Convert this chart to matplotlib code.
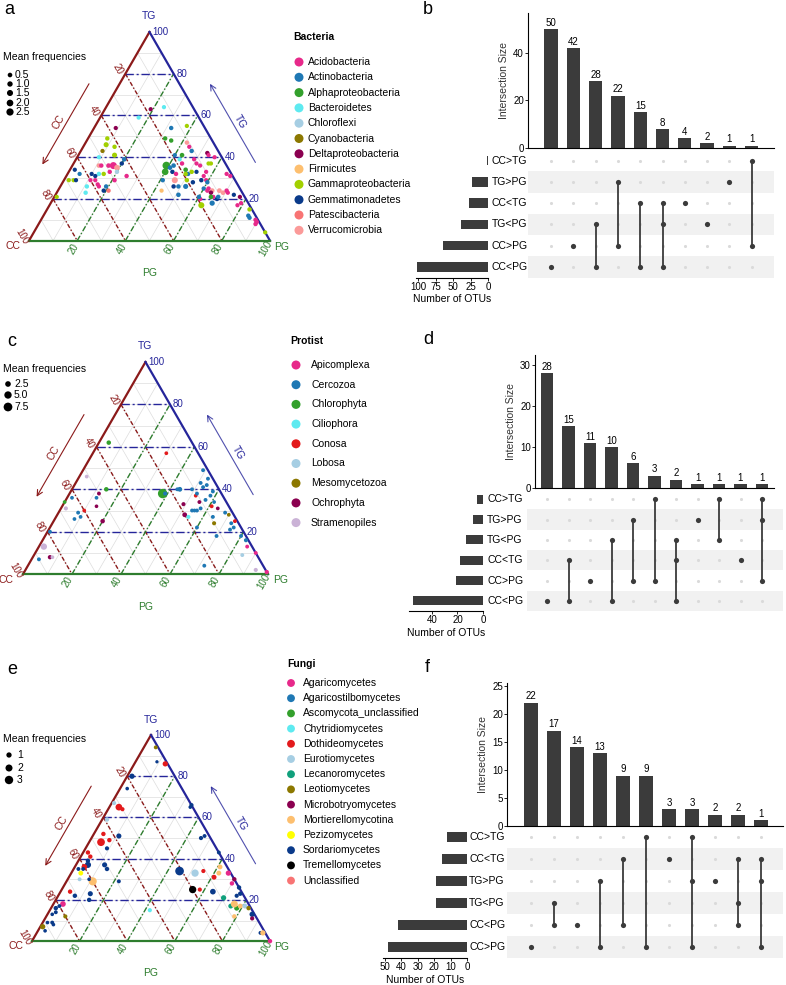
import numpy as np
import matplotlib.pyplot as plt
from matplotlib.transforms import blended_transform_factory

plt.rcParams['font.family'] = ['Liberation Sans', 'DejaVu Sans']

# ---------------- data: ternary plots (TG %, PG %, CC = rest) ----------------
bac_taxa = ["Acidobacteria", "Actinobacteria", "Alphaproteobacteria", "Bacteroidetes",
            "Chloroflexi", "Cyanobacteria", "Deltaproteobacteria", "Firmicutes",
            "Gammaproteobacteria", "Gemmatimonadetes", "Patescibacteria", "Verrucomicrobia"]
bac_codes = ["Aci", "Act", "Alp", "Bac", "Chl", "Cya", "Del", "Fir", "Gam", "Gem", "Pat", "Ver"]
bac_colors = ["#E7298A", "#1F78B4", "#33A02C", "#5EEAF0", "#A6CEE3", "#8C7800",
              "#8B0050", "#FDBF6F", "#A2D000", "#0A3A8A", "#F87474", "#FB9A99"]
bac_tg = [63, 64, 59, 54, 55, 49, 48, 54, 49, 46,
          45, 41, 43, 39, 37, 40, 36, 35, 36, 36,
          36, 33, 33, 32, 32, 31, 32, 32, 34, 29,
          29, 29, 29, 29, 29, 31, 27, 26, 26, 26,
          24, 24, 23, 21, 41, 39, 36, 33, 36, 35,
          33, 32, 29, 29, 24, 34, 37, 47, 45, 43,
          41, 39, 37, 32, 33, 32, 33, 26, 29, 28,
          26, 26, 22, 36, 29, 31, 42, 41, 40, 37,
          37, 33, 29, 28, 25, 24, 25, 24, 24, 23,
          24, 23, 21, 21, 20, 18, 21, 20, 21, 17,
          32, 31, 23, 22, 21, 18, 17, 15, 12, 11,
          10, 9, 8, 4]
bac_pg = [19, 24, 16, 32, 38, 32, 35, 9, 8, 9,
          13, 15, 9, 20, 20, 9, 17, 19, 15, 11,
          12, 20, 17, 15, 13, 12, 10, 5, 2, 4,
          5, 2, 11, 13, 21, 25, 15, 16, 19, 11,
          19, 21, 12, 1, 40, 43, 39, 40, 42, 41,
          43, 45, 46, 41, 43, 48, 45, 42, 44, 46,
          43, 49, 51, 50, 51, 49, 53, 52, 51, 54,
          47, 49, 51, 53, 57, 57, 53, 54, 57, 57,
          56, 57, 59, 60, 60, 62, 62, 64, 67, 69,
          70, 64, 66, 65, 68, 67, 68, 61, 60, 63,
          66, 68, 71, 74, 77, 79, 78, 84, 85, 86,
          89, 90, 90, 96]
bac_freq = [0.3, 0.3, 0.3, 0.4, 0.3, 0.4, 0.4, 0.3, 0.4, 0.8,
            0.4, 0.8, 0.3, 0.5, 0.4, 0.3, 2.3, 1.2, 0.5, 0.5,
            0.4, 0.4, 0.4, 0.4, 0.4, 0.3, 0.3, 0.3, 0.3, 0.3,
            0.3, 0.3, 0.3, 0.3, 0.4, 0.4, 0.3, 0.3, 0.4, 0.4,
            0.4, 0.4, 0.4, 0.3, 0.3, 0.3, 3.0, 2.0, 0.5, 0.5,
            0.4, 0.4, 1.5, 0.4, 0.3, 0.5, 0.4, 0.4, 0.3, 0.4,
            0.5, 0.3, 0.3, 0.4, 0.4, 0.4, 0.3, 0.8, 0.4, 0.4,
            0.4, 0.4, 0.5, 0.3, 0.4, 0.3, 0.4, 0.3, 0.3, 0.3,
            0.3, 0.3, 0.3, 0.4, 0.4, 0.4, 0.4, 0.6, 0.6, 0.5,
            0.4, 0.4, 0.3, 0.5, 0.4, 0.9, 0.4, 0.4, 0.4, 1.5,
            0.3, 0.3, 0.3, 0.3, 0.3, 0.3, 0.3, 0.4, 0.4, 0.4,
            0.4, 0.4, 0.4, 0.3]
bac_taxon = ["Del", "Bac", "Bac", "Act", "Gam", "Alp", "Alp", "Del", "Gam", "Gam",
             "Gam", "Gam", "Cya", "Act", "Gem", "Bac", "Aci", "Ver", "Aci", "Ver",
             "Aci", "Chl", "Aci", "Gam", "Bac", "Gem", "Gem", "Act", "Gem", "Gam",
             "Gem", "Gam", "Aci", "Aci", "Aci", "Aci", "Aci", "Aci", "Act", "Bac",
             "Gem", "Pat", "Bac", "Gam", "Act", "Bac", "Alp", "Alp", "Act", "Act",
             "Gem", "Aci", "Ver", "Act", "Fir", "Alp", "Aci", "Ver", "Aci", "Act",
             "Alp", "Aci", "Aci", "Act", "Gam", "Gam", "Gem", "Act", "Gam", "Gem",
             "Gem", "Act", "Act", "Aci", "Gem", "Aci", "Del", "Aci", "Aci", "Gam",
             "Gam", "Aci", "Aci", "Act", "Act", "Aci", "Aci", "Ver", "Ver", "Ver",
             "Aci", "Del", "Aci", "Alp", "Gem", "Act", "Act", "Aci", "Act", "Gam",
             "Aci", "Aci", "Aci", "Gem", "Del", "Aci", "Aci", "Gam", "Act", "Act",
             "Aci", "Aci", "Aci", "Gam"]
bac_freq_legend = [0.5, 1.0, 1.5, 2.0, 2.5]

pro_taxa = ["Apicomplexa", "Cercozoa", "Chlorophyta", "Ciliophora", "Conosa",
            "Lobosa", "Mesomycetozoa", "Ochrophyta", "Stramenopiles"]
pro_codes = ["Api", "Cer", "Chl", "Cil", "Con", "Lob", "Mes", "Och", "Str"]
pro_colors = ["#E7298A", "#1F78B4", "#33A02C", "#5EEAF0", "#E31A1C",
              "#A6CEE3", "#8C7800", "#8B0050", "#CAB2D6"]
pro_tg = [62, 57, 46, 40, 38, 36, 36, 34, 31, 32,
          30, 29, 27, 26, 25, 38, 38, 40, 40, 40,
          37, 33, 28, 27, 30, 30, 30, 31, 49, 45,
          43, 41, 38, 35, 34, 39, 37, 34, 32, 31,
          27, 24, 22, 18, 29, 28, 25, 24, 21, 18,
          16, 13, 9, 2, 1, 4, 13, 8, 8, 7,
          20, 42, 22, 10]
pro_pg = [4, 30, 3, 14, 12, 12, 2, 0, 2, 14,
          10, 8, 10, 8, 20, 38, 39, 44, 43, 49,
          52, 49, 52, 54, 54, 55, 56, 57, 49, 53,
          51, 53, 52, 57, 55, 58, 58, 61, 61, 64,
          64, 66, 60, 70, 68, 70, 74, 73, 74, 80,
          83, 85, 85, 94, 99, 72, 2, 7, 8, 3,
          1, 54, 75, 90]
pro_freq = [1.2, 0.5, 0.5, 1.2, 0.6, 0.5, 0.5, 0.5, 0.8, 0.4,
            0.5, 0.6, 0.5, 0.5, 1.2, 9.0, 0.8, 1.5, 0.6, 0.6,
            0.5, 0.8, 1.5, 0.8, 0.6, 0.6, 0.6, 0.6, 0.6, 0.6,
            0.6, 0.6, 0.6, 0.6, 0.6, 0.6, 0.6, 0.5, 0.6, 0.5,
            0.6, 0.8, 0.6, 0.6, 0.6, 0.5, 0.6, 0.6, 0.6, 0.6,
            0.8, 0.6, 0.6, 0.8, 1.0, 0.6, 3.5, 1.0, 0.5, 0.6,
            0.6, 0.6, 0.6, 0.6]
pro_taxon = ["Chl", "Con", "Str", "Chl", "Och", "Cer", "Cer", "Chl", "Str", "Och",
             "Con", "Cer", "Cer", "Cer", "Och", "Chl", "Cer", "Cer", "Cer", "Cer",
             "Con", "Och", "Och", "Cil", "Cer", "Cer", "Cer", "Cer", "Cer", "Cer",
             "Cer", "Cer", "Cer", "Cer", "Och", "Cer", "Cer", "Cer", "Con", "Och",
             "Cer", "Mes", "Cer", "Cer", "Cer", "Mes", "Con", "Cer", "Cer", "Cer",
             "Cer", "Api", "Lob", "Str", "Api", "Cer", "Str", "Och", "Str", "Cer",
             "Cer", "Cer", "Cer", "Api"]
pro_freq_legend = [2.5, 5.0, 7.5]

fun_taxa = ["Agaricomycetes", "Agaricostilbomycetes", "Ascomycota_unclassified",
            "Chytridiomycetes", "Dothideomycetes", "Eurotiomycetes", "Lecanoromycetes",
            "Leotiomycetes", "Microbotryomycetes", "Mortierellomycotina", "Pezizomycetes",
            "Sordariomycetes", "Tremellomycetes", "Unclassified"]
fun_codes = ["Agr", "Ags", "Asc", "Chy", "Dot", "Eur", "Lec", "Leo", "Mic", "Mor",
             "Pez", "Sor", "Tre", "Unc"]
fun_colors = ["#E7298A", "#1F78B4", "#33A02C", "#5EEAF0", "#E31A1C", "#A6CEE3", "#10A07C",
              "#8C7800", "#8B0050", "#FDBF6F", "#FFFF00", "#0A3A8A", "#000000", "#F87474"]
fun_tg = [94, 87, 86, 80, 74, 67, 65, 64, 66, 65,
          59, 52, 48, 49, 45, 51, 43, 41, 39, 37,
          36, 37, 35, 35, 35, 33, 30, 29, 30, 29,
          24, 22, 23, 20, 18, 17, 16, 14, 12, 13,
          9, 8, 9, 7, 5, 15, 34, 33, 34, 25,
          25, 24, 31, 36, 33, 50, 51, 43, 21, 17,
          16, 18, 17, 17, 16, 33, 30, 26, 23, 28,
          22, 13, 11, 12, 4, 4, 0]
fun_pg = [5, 9, 13, 2, 3, 1, 4, 6, 34, 34,
          2, 4, 5, 8, 9, 11, 2, 4, 4, 5,
          4, 12, 14, 2, 4, 4, 5, 11, 9, 22,
          4, 7, 13, 14, 4, 3, 2, 3, 8, 2,
          4, 5, 2, 1, 3, 42, 45, 52, 55, 55,
          58, 64, 61, 61, 62, 46, 47, 57, 70, 75,
          78, 76, 79, 81, 83, 66, 70, 74, 76, 70,
          75, 86, 87, 79, 94, 95, 100]
fun_freq = [0.4, 0.2, 1.0, 1.0, 0.3, 0.5, 1.8, 0.5, 0.5, 0.3,
            0.6, 0.6, 2.5, 0.6, 0.5, 0.9, 0.6, 0.6, 0.6, 1.5,
            1.2, 0.9, 0.6, 0.4, 0.4, 0.8, 0.4, 2.8, 0.3, 0.4,
            0.6, 0.6, 0.9, 0.6, 1.2, 0.4, 0.6, 0.4, 0.5, 0.3,
            0.4, 0.3, 0.3, 1.0, 0.3, 0.5, 3.2, 2.2, 0.5, 2.2,
            0.5, 1.2, 0.8, 0.8, 0.8, 0.5, 0.4, 0.4, 1.0, 0.8,
            0.9, 2.0, 0.8, 0.8, 0.6, 1.0, 0.6, 0.6, 0.6, 0.6,
            0.5, 1.0, 0.5, 0.6, 0.4, 1.0, 0.6]
fun_taxon = ["Leo", "Sor", "Dot", "Sor", "Sor", "Eur", "Dot", "Dot", "Sor", "Sor",
             "Eur", "Dot", "Dot", "Dot", "Sor", "Sor", "Dot", "Dot", "Sor", "Sor",
             "Dot", "Sor", "Sor", "Sor", "Sor", "Pez", "Eur", "Mor", "Sor", "Sor",
             "Dot", "Sor", "Sor", "Sor", "Agr", "Sor", "Sor", "Sor", "Leo", "Sor",
             "Sor", "Sor", "Sor", "Leo", "Sor", "Chy", "Sor", "Eur", "Dot", "Tre",
             "Dot", "Sor", "Dot", "Mor", "Mor", "Sor", "Sor", "Sor", "Lec", "Lec",
             "Asc", "Mor", "Mor", "Eur", "Leo", "Agr", "Mic", "Sor", "Sor", "Agr",
             "Sor", "Sor", "Mic", "Mor", "Sor", "Mor", "Agr"]
fun_freq_legend = [1, 2, 3]

# ---------------- data: upset plots ----------------
b_sets = ["CC>TG", "TG>PG", "CC<TG", "TG<PG", "CC>PG", "CC<PG"]
b_inter = [50, 42, 28, 22, 15, 8, 4, 2, 1, 1]
b_members = [["CC<PG"], ["CC>PG"], ["TG<PG", "CC<PG"], ["TG>PG", "CC>PG"],
             ["CC<TG", "CC<PG"], ["CC<TG", "TG<PG", "CC<PG"], ["CC<TG"], ["TG<PG"],
             ["TG>PG"], ["CC>TG", "CC>PG"]]

d_sets = ["CC>TG", "TG>PG", "TG<PG", "CC<TG", "CC>PG", "CC<PG"]
d_inter = [28, 15, 11, 10, 6, 3, 2, 1, 1, 1, 1]
d_members = [["CC<PG"], ["CC<TG", "CC<PG"], ["CC>PG"], ["TG<PG", "CC<PG"],
             ["TG>PG", "CC>PG"], ["CC>TG", "CC>PG"], ["TG<PG", "CC<TG", "CC<PG"],
             ["TG>PG"], ["CC>TG", "TG<PG"], ["CC<TG"], ["CC>TG", "TG>PG", "CC>PG"]]

f_sets = ["CC>TG", "CC<TG", "TG>PG", "TG<PG", "CC<PG", "CC>PG"]
f_inter = [22, 17, 14, 13, 9, 9, 3, 3, 2, 2, 1]
f_members = [["CC>PG"], ["TG<PG", "CC<PG"], ["CC<PG"], ["TG>PG", "CC>PG"],
             ["CC<TG", "CC<PG"], ["CC>TG", "CC>PG"], ["CC<TG"],
             ["CC>TG", "TG>PG", "CC>PG"], ["TG>PG"], ["CC<TG", "TG<PG", "CC<PG"],
             ["CC<TG", "TG>PG", "CC>PG"]]

# ---------------- figure ----------------
W, H = 786, 985
fig = plt.figure(figsize=(W / 100, H / 100), dpi=100)
S3 = np.sqrt(3) / 2
DARK = "#3B3B3B"
CC_COL, TG_COL, PG_COL = "#8B1A1A", "#25259A", "#2E7D2E"


def px_axes(left, top, right, bottom):
    return fig.add_axes([left / W, 1 - bottom / H, (right - left) / W, (bottom - top) / H])


def tern(tg, pg):
    tg = np.asarray(tg, dtype=float) / 100
    pg = np.asarray(pg, dtype=float) / 100
    return pg + tg / 2, tg * S3


def draw_ternary(ax, tg, pg, freq, taxon, codes, colors, size_fn):
    ax.set_xlim(0, 1)
    ax.set_ylim(0, S3)
    ax.axis("off")
    # light grid every 10
    for v in range(10, 100, 10):
        for a, b in [((v, 0), (v, 100 - v)), ((100 - v, 0), (0, 100 - v)), ((0, v), (100 - v, v))]:
            x, y = tern([a[0], b[0]], [a[1], b[1]])
            ax.plot(x, y, color="#DDDDDD", lw=0.5, zorder=1)
    # coloured major lines
    for v in (20, 40, 60, 80):
        x, y = tern([v, v], [0, 100 - v])
        ax.plot(x, y, color=TG_COL, lw=1.0, ls=(0, (6, 2, 1.5, 2)), zorder=2)
        x, y = tern([100 - v, 0], [0, 100 - v])
        ax.plot(x, y, color=CC_COL, lw=1.0, ls=(0, (3, 1.5, 1, 1.5)), zorder=2)
        x, y = tern([0, 100 - v], [v, v])
        ax.plot(x, y, color=PG_COL, lw=1.0, ls=(0, (4, 1.5, 1, 1.5)), zorder=2)
    # edges
    ax.plot([0, 0.5], [0, S3], color=CC_COL, lw=1.6, zorder=3, clip_on=False)
    ax.plot([0.5, 1], [S3, 0], color=TG_COL, lw=1.6, zorder=3, clip_on=False)
    ax.plot([0, 1], [0, 0], color=PG_COL, lw=1.6, zorder=3, clip_on=False)
    # points
    x, y = tern(tg, pg)
    cols = [colors[codes.index(t)] for t in taxon]
    ax.scatter(x, y, s=size_fn(np.asarray(freq)), c=cols, linewidths=0, zorder=5, clip_on=False)
    # tick labels
    for v in (20, 40, 60, 80, 100):
        x, y = tern(100 - v, 0)
        ax.text(x - 0.03, y + 0.017, str(v), rotation=-60, color=CC_COL, fontsize=7,
                ha="center", va="center")
        x, y = tern(v, 100 - v)
        ax.text(x + 0.012, y, str(v), color=TG_COL, fontsize=7, ha="left", va="center")
        x, y = tern(0, v)
        ax.text(x - 0.016, y - 0.032, str(v), rotation=60, color=PG_COL, fontsize=7,
                ha="center", va="center")
    # axis titles
    ax.text(0.5, S3 + 0.065, "TG", color=TG_COL, fontsize=7.5, ha="center", va="center")
    ax.text(-0.068, -0.022, "CC", color=CC_COL, fontsize=7.5, ha="center", va="center")
    ax.text(1.05, -0.025, "PG", color=PG_COL, fontsize=7.5, ha="center", va="center")
    # arrows
    nl = np.array([-S3, 0.5])
    nr = np.array([S3, 0.5])
    p0 = np.array([0.70 / 2, 0.70 * S3]) + 0.11 * nl
    p1 = np.array([0.29 / 2, 0.29 * S3]) + 0.11 * nl
    ax.annotate("", xy=p1, xytext=p0, arrowprops=dict(arrowstyle="->", color=CC_COL, lw=0.8))
    pt = np.array([0.245, 0.49 * S3]) + 0.14 * nl
    ax.text(pt[0], pt[1], "CC", rotation=60, color=CC_COL, fontsize=7.5, ha="center", va="center")
    p0 = np.array([1 - 0.30 / 2, 0.30 * S3]) + 0.11 * nr
    p1 = np.array([1 - 0.70 / 2, 0.70 * S3]) + 0.11 * nr
    ax.annotate("", xy=p1, xytext=p0, arrowprops=dict(arrowstyle="->", color=TG_COL, lw=0.8, alpha=0.8))
    pt = np.array([1 - 0.245, 0.49 * S3]) + 0.14 * nr
    ax.text(pt[0], pt[1], "TG", rotation=-60, color=TG_COL, fontsize=7.5, ha="center", va="center")
    ax.annotate("", xy=(0.70, -0.085), xytext=(0.30, -0.085),
                arrowprops=dict(arrowstyle="->", color=PG_COL, lw=0.8, alpha=0.8))
    ax.text(0.5, -0.135, "PG", color=PG_COL, fontsize=7.5, ha="center", va="center")


def draw_upset(sets, inter, members, bar_box, mat_box, set_box, c0, sp, ymax, yticks,
               smax, sticks, name_x):
    n, ns = len(inter), len(sets)
    xs = np.arange(n)
    rows = {s: ns - 1 - i for i, s in enumerate(sets)}

    axb = px_axes(*bar_box)
    axb.bar(xs, inter, width=0.6, color=DARK)
    for x, v in zip(xs, inter):
        axb.text(x, v + ymax * 0.01, str(v), ha="center", va="bottom", fontsize=7)
    axb.set_xlim((bar_box[0] - c0) / sp, (bar_box[2] - c0) / sp)
    axb.set_ylim(0, ymax)
    axb.set_xticks([])
    axb.set_yticks(yticks)
    for side in ("top", "right"):
        axb.spines[side].set_visible(False)
    for side in ("left", "bottom"):
        axb.spines[side].set_linewidth(0.8)
    axb.tick_params(axis="y", length=2, width=0.6, labelsize=7, pad=1)
    axb.set_ylabel("Intersection Size", fontsize=7.5, labelpad=3, color="#333333")

    axm = px_axes(*mat_box)
    axm.set_xlim((mat_box[0] - c0) / sp, (mat_box[2] - c0) / sp)
    axm.set_ylim(-0.5, ns - 0.5)
    for i in range(1, ns, 2):
        axm.axhspan(ns - 1 - i - 0.5, ns - 1 - i + 0.5, color="#F1F1F1", lw=0)
    gx, gy = np.meshgrid(xs, np.arange(ns))
    axm.scatter(gx.ravel(), gy.ravel(), s=5, color="#DADADA", lw=0)
    for x, mem in zip(xs, members):
        ys = [rows[m] for m in mem]
        if len(ys) > 1:
            axm.plot([x, x], [min(ys), max(ys)], color=DARK, lw=1.3)
        axm.scatter([x] * len(ys), ys, s=14, color=DARK, lw=0, zorder=3)
    axm.axis("off")
    tr = blended_transform_factory(axm.transAxes, axm.transData)
    for s, y in rows.items():
        axm.text((name_x - mat_box[0]) / (mat_box[2] - mat_box[0]), y, s, transform=tr,
                 ha="left", va="center", fontsize=7.5)

    set_sizes = [sum(v for v, mem in zip(inter, members) if s in mem) for s in sets]
    axs = px_axes(*set_box)
    axs.barh([rows[s] for s in sets], set_sizes, height=0.45, color=DARK)
    axs.set_xlim(smax, 0)
    axs.set_ylim(-0.5, ns - 0.5)
    axs.set_xticks(sticks)
    axs.set_yticks([])
    for side in ("top", "right", "left"):
        axs.spines[side].set_visible(False)
    axs.spines["bottom"].set_linewidth(0.8)
    axs.tick_params(axis="x", length=2, width=0.6, labelsize=7, pad=1)
    axs.set_xlabel("Number of OTUs", fontsize=7.5, labelpad=2)


def bac_size(v):
    return 7 + 8 * v


def pro_size(v):
    return 5 + 4.6 * v


def fun_size(v):
    return 3.5 + 11 * v


# ternary panels
draw_ternary(px_axes(29, 32, 270, 32 + 241 * S3), bac_tg, bac_pg, bac_freq, bac_taxon,
             bac_codes, bac_colors, bac_size)
draw_ternary(px_axes(23, 362, 268, 362 + 245 * S3), pro_tg, pro_pg, pro_freq, pro_taxon,
             pro_codes, pro_colors, pro_size)
draw_ternary(px_axes(32, 735, 270, 735 + 238 * S3), fun_tg, fun_pg, fun_freq, fun_taxon,
             fun_codes, fun_colors, fun_size)

# upset panels
draw_upset(b_sets, b_inter, b_members, (528, 13, 774, 148), (528, 150, 774, 277.5),
           (416, 150, 488, 277.5), 551, 22.3, 56.8, [0, 20, 40], 103, [0, 25, 50, 75, 100], 492)
draw_upset(d_sets, d_inter, d_members, (535, 355, 774, 488), (527, 489, 783, 611),
           (409, 489, 483, 611), 547, 21.5, 32.4, [0, 10, 20, 30], 58, [0, 20, 40], 487)
draw_upset(f_sets, f_inter, f_members, (507, 683, 783, 826), (507, 826, 783, 958),
           (383, 826, 467, 958), 531, 23.0, 25.5, [0, 5, 10, 15, 20, 25], 51,
           [0, 10, 20, 30, 40, 50], 469)

# overlay for legends and panel letters
ov = fig.add_axes([0, 0, 1, 1])
ov.set_xlim(0, W)
ov.set_ylim(H, 0)
ov.axis("off")


def size_legend(title_y, x_dot, x_txt, ys, values, size_fn):
    ov.text(3, title_y, "Mean frequencies", fontsize=7.5, va="center", ha="left")
    ov.scatter([x_dot] * len(values), ys, s=size_fn(np.asarray(values)), color="black", lw=0)
    for y, v in zip(ys, values):
        ov.text(x_txt, y, str(v), fontsize=7.5, va="center", ha="left")


def taxa_legend(title, tx, ty, x_dot, x_txt, y0, step, taxa, colors, s):
    ov.text(tx, ty, title, fontsize=7.5, fontweight="bold", va="center", ha="left")
    ys = y0 + step * np.arange(len(taxa))
    ov.scatter([x_dot] * len(taxa), ys, s=s, c=colors, lw=0)
    for y, t in zip(ys, taxa):
        ov.text(x_txt, y, t, fontsize=7.5, va="center", ha="left")


size_legend(57, 10, 15, [75, 84, 93, 103, 112], bac_freq_legend, bac_size)
size_legend(369, 8, 14, [384, 395, 407], pro_freq_legend, pro_size)
size_legend(739, 9, 17, [755, 768, 780], fun_freq_legend, fun_size)

taxa_legend("Bacteria", 293, 37, 299, 308, 62, 15.3, bac_taxa, bac_colors, 42)
taxa_legend("Protist", 290, 341, 296, 311, 365, 19.7, pro_taxa, pro_colors, 42)
taxa_legend("Fungi", 287, 664, 291, 303, 683, 15.2, fun_taxa, fun_colors, 32)

for letter, x, y in [("a", 9, 9), ("b", 428, 9), ("c", 12, 341), ("d", 428, 340),
                     ("e", 12, 669), ("f", 427, 668)]:
    ov.text(x, y, letter, fontsize=13, ha="center", va="center")

fig.savefig("out.png", dpi=100)
